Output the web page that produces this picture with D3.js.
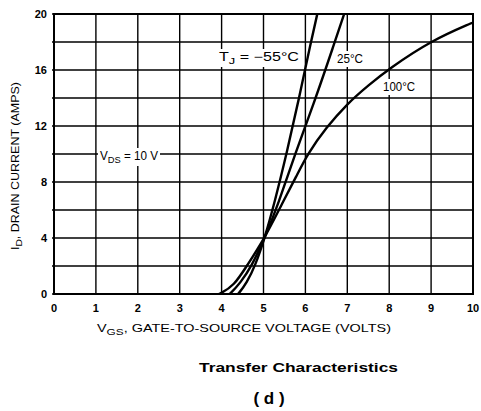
<!DOCTYPE html>
<html><head><meta charset="utf-8">
<script src="https://cdn.jsdelivr.net/npm/d3@7"></script>
<style>body{margin:0;background:#fff}svg{display:block}text{font-family:"Liberation Sans",Arial,sans-serif;fill:#000}</style>
</head><body><svg id="c" width="481" height="411"></svg>
<script>
const xTicks = [0,1,2,3,4,5,6,7,8,9,10];
const yTicks = [0,4,8,12,16,20];
const yGrid = [0,2,4,6,8,10,12,14,16,18,20];
const vgsM55 = [4.38,4.4,4.6,4.8,5.03,5.27,5.55,5.85,6.13,6.3,6.32];
const idM55  = [0,0,0.8,2,4,6.6,10,14,18,20.2,20.5];
const vgs25 = [4.18,4.2,4.45,4.72,5.03,5.35,5.75,6.25,6.7,6.95,6.97];
const id25  = [0,0,0.8,2,4,6.4,10,14,18,20.2,20.5];
const vgs100 = [3.93,3.95,4.3,4.6,5.03,5.4,5.8,6.05,6.5,7.0,7.5,8.0,9.0,10,10.02];
const id100  = [0,0,0.6,2,4,6.2,8.5,10,11.9,13.6,14.9,16.1,18.1,19.4,19.42];

const svg = d3.select("#c");
const x = d3.scaleLinear().domain([0,10]).range([54,473]);
const y = d3.scaleLinear().domain([0,20]).range([294,14]);

svg.append("g").selectAll("line").data(xTicks).join("line")
  .attr("x1",d=>x(d)).attr("x2",d=>x(d)).attr("y1",y(0)).attr("y2",y(20))
  .attr("stroke","#000").attr("stroke-width",1.4);
svg.append("g").selectAll("line").data(yGrid).join("line")
  .attr("x1",x(0)-2).attr("x2",x(10)).attr("y1",d=>y(d)).attr("y2",d=>y(d))
  .attr("stroke","#000").attr("stroke-width",1.6);
svg.append("rect").attr("x",x(0)).attr("y",y(20)).attr("width",x(10)-x(0)).attr("height",y(0)-y(20))
  .attr("fill","none").attr("stroke","#000").attr("stroke-width",2);

svg.append("clipPath").attr("id","clip").append("rect")
  .attr("x",x(0)).attr("y",y(20)).attr("width",x(10)-x(0)).attr("height",y(0)-y(20));
const line = d3.line().x(d=>x(d[0])).y(d=>y(d[1])).curve(d3.curveBasis);
const series = [d3.zip(vgsM55,idM55), d3.zip(vgs25,id25), d3.zip(vgs100,id100)];
svg.append("g").attr("clip-path","url(#clip)").selectAll("path").data(series).join("path")
  .attr("d",line).attr("fill","none").attr("stroke","#000").attr("stroke-width",2.4);

svg.append("g").selectAll("text").data(xTicks).join("text")
  .attr("x",d=>x(d)).attr("y",312).attr("text-anchor","middle")
  .attr("font-size",11).attr("font-weight","bold").text(d=>d);
svg.append("g").selectAll("text").data(yTicks).join("text")
  .attr("x",47).attr("y",d=>y(d)+4).attr("text-anchor","end")
  .attr("font-size",11).attr("font-weight","bold").text(d=>d);

function label(xp, yp, parts, fs, w){
  const g = svg.append("g");
  const bg = g.append("rect").attr("fill","#fff");
  const t = g.append("text").attr("x",xp).attr("y",yp).attr("font-size",fs);
  parts.forEach(p=>{
    const ts = t.append("tspan").text(p.t);
    if(p.sub){ts.attr("font-size",fs*0.8).attr("dy",3);} else if(p.up){ts.attr("dy",-3);}
  });
  if(w) t.attr("textLength",w).attr("lengthAdjust","spacingAndGlyphs");
  const b = t.node().getBBox();
  bg.attr("x",b.x-2).attr("y",b.y-1).attr("width",b.width+4).attr("height",b.height+2);
}
label(219,61,[{t:"T"},{t:"J",sub:true},{t:"  =  −55°C",up:true}],12,80);
label(337,63,[{t:"25°C"}],12,26);
label(383,91,[{t:"100°C"}],12,32);
label(100,160,[{t:"V"},{t:"DS",sub:true},{t:" = 10 V",up:true}],12,58);

svg.append("text").attr("x",97).attr("y",332).attr("font-size",11)
  .attr("textLength",294).attr("lengthAdjust","spacingAndGlyphs")
  .call(t=>{t.append("tspan").text("V");t.append("tspan").attr("font-size",9).attr("dy",3).text("GS");
    t.append("tspan").attr("dy",-3).text(", GATE-TO-SOURCE VOLTAGE (VOLTS)");});
svg.append("text").attr("transform","translate(19,250) rotate(-90)").attr("font-size",11)
  .attr("textLength",168).attr("lengthAdjust","spacingAndGlyphs")
  .call(t=>{t.append("tspan").text("I");t.append("tspan").attr("font-size",9).attr("dy",3).text("D");
    t.append("tspan").attr("dy",-3).text(", DRAIN CURRENT (AMPS)");});

svg.append("text").attr("x",199).attr("y",372).attr("font-size",13).attr("font-weight","bold")
  .attr("textLength",199).attr("lengthAdjust","spacingAndGlyphs").text("Transfer Characteristics");
svg.append("text").attr("x",269).attr("y",404).attr("text-anchor","middle").attr("font-size",17)
  .attr("font-weight","bold").text("( d )");
</script></body></html>
